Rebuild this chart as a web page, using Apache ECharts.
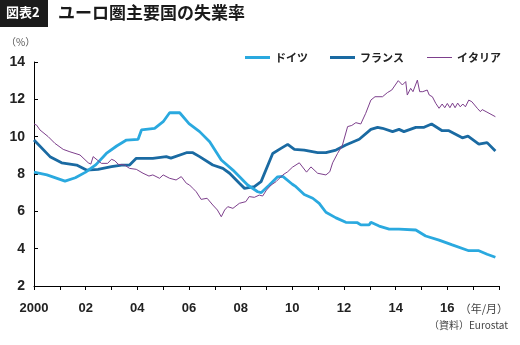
<!DOCTYPE html>
<html>
<head>
<meta charset="utf-8">
<script src="https://cdn.jsdelivr.net/npm/echarts@6/dist/echarts.min.js"></script>
<style>
html,body{margin:0;padding:0;background:#fff;}
#chart{width:520px;height:345px;}
</style>
</head>
<body>
<div id="chart"></div>
<script>
// ---- data (decimal year, unemployment rate %) ----
const seriesNames = ['ドイツ', 'フランス', 'イタリア'];
const germany = [
  [2000.0, 8.1], [2000.5, 7.95], [2001.2, 7.62], [2001.6, 7.8], [2002.0, 8.1], [2002.4, 8.5],
  [2002.8, 9.1], [2003.2, 9.5], [2003.58, 9.82], [2004.03, 9.86], [2004.16, 10.36], [2004.67, 10.45],
  [2005.0, 10.8], [2005.25, 11.28], [2005.64, 11.28], [2006.0, 10.7], [2006.41, 10.27], [2006.8, 9.73],
  [2007.25, 8.75], [2007.7, 8.21], [2008.27, 7.41], [2008.66, 7.05], [2008.79, 7.0], [2009.11, 7.41],
  [2009.43, 7.85], [2009.63, 7.87], [2010.0, 7.45], [2010.14, 7.32], [2010.46, 6.9], [2010.79, 6.7],
  [2011.04, 6.43], [2011.3, 5.95], [2011.69, 5.65], [2012.07, 5.41], [2012.52, 5.39], [2012.65, 5.27],
  [2012.97, 5.27], [2013.04, 5.41], [2013.36, 5.21], [2013.75, 5.05], [2014.13, 5.05], [2014.78, 5.0],
  [2015.16, 4.68], [2015.68, 4.46], [2016.19, 4.2], [2016.83, 3.89], [2017.22, 3.89], [2017.54, 3.7],
  [2017.86, 3.54]
];
const france = [
  [2000.0, 9.82], [2000.62, 8.93], [2001.07, 8.6], [2001.65, 8.48], [2002.03, 8.21], [2002.48, 8.25],
  [2003.0, 8.39], [2003.39, 8.48], [2003.7, 8.48], [2003.96, 8.84], [2004.6, 8.84], [2005.12, 8.93],
  [2005.3, 8.85], [2005.9, 9.14], [2006.15, 9.14], [2006.41, 8.93], [2006.92, 8.48], [2007.31, 8.3],
  [2007.57, 8.04], [2007.95, 7.5], [2008.15, 7.23], [2008.53, 7.32], [2008.79, 7.59], [2009.24, 9.1],
  [2009.56, 9.37], [2009.82, 9.59], [2010.08, 9.32], [2010.46, 9.28], [2010.98, 9.14], [2011.3, 9.14],
  [2011.69, 9.28], [2012.07, 9.55], [2012.59, 9.86], [2013.04, 10.39], [2013.3, 10.5], [2013.49, 10.45],
  [2013.88, 10.27], [2014.13, 10.39], [2014.32, 10.27], [2014.78, 10.5], [2015.1, 10.5], [2015.39, 10.68],
  [2015.8, 10.32], [2016.06, 10.32], [2016.58, 9.94], [2016.8, 10.03], [2017.22, 9.6], [2017.54, 9.68],
  [2017.86, 9.23]
];
const italy = [
  [2000.0, 10.68], [2000.1, 10.62], [2000.23, 10.36], [2000.55, 10.0], [2000.81, 9.64], [2001.13, 9.32],
  [2001.39, 9.19], [2001.78, 9.02], [2002.1, 8.6], [2002.2, 8.53], [2002.29, 8.93], [2002.45, 8.75],
  [2002.61, 8.57], [2002.85, 8.57], [2003.0, 8.79], [2003.13, 8.71], [2003.26, 8.52], [2003.51, 8.48],
  [2003.7, 8.3], [2003.96, 8.25], [2004.22, 8.04], [2004.45, 7.89], [2004.6, 7.95], [2004.86, 7.77],
  [2005.0, 7.95], [2005.25, 7.77], [2005.5, 7.68], [2005.7, 7.86], [2005.9, 7.5], [2006.02, 7.41],
  [2006.15, 7.23], [2006.28, 7.05], [2006.47, 6.64], [2006.7, 6.7], [2006.92, 6.34], [2007.1, 6.07],
  [2007.25, 5.71], [2007.38, 6.07], [2007.5, 6.25], [2007.7, 6.16], [2007.95, 6.43], [2008.2, 6.52],
  [2008.33, 6.79], [2008.53, 6.75], [2008.72, 6.87], [2008.85, 6.82], [2009.0, 7.14], [2009.18, 7.41],
  [2009.37, 7.59], [2009.63, 7.95], [2009.82, 8.12], [2010.0, 8.36], [2010.27, 8.6], [2010.55, 8.1],
  [2010.72, 8.38], [2010.98, 8.04], [2011.3, 7.95], [2011.45, 8.12], [2011.56, 8.6], [2011.75, 9.1],
  [2011.94, 9.55], [2012.14, 10.54], [2012.3, 10.6], [2012.46, 10.75], [2012.65, 10.68], [2012.84, 11.25],
  [2013.04, 11.96], [2013.2, 12.14], [2013.49, 12.14], [2013.68, 12.36], [2013.85, 12.5], [2014.1, 13.0],
  [2014.26, 12.77], [2014.39, 12.95], [2014.45, 12.23], [2014.58, 12.59], [2014.67, 12.41], [2014.84, 13.03],
  [2014.93, 12.41], [2015.05, 12.41], [2015.22, 12.5], [2015.3, 12.23], [2015.42, 12.14], [2015.55, 11.79],
  [2015.68, 11.52], [2015.8, 11.75], [2015.9, 11.55], [2016.0, 11.78], [2016.1, 11.55], [2016.2, 11.8],
  [2016.3, 11.55], [2016.4, 11.8], [2016.5, 11.6], [2016.6, 11.75], [2016.7, 11.6], [2016.83, 11.96],
  [2016.95, 11.87], [2017.16, 11.52], [2017.28, 11.34], [2017.35, 11.45], [2017.5, 11.34], [2017.86, 11.07]
];
const xTickLabels = {2000:'2000', 2002:'02', 2004:'04', 2006:'06', 2008:'08', 2010:'10', 2012:'12', 2014:'14', 2016:'16'};
const yTicks = [2, 4, 6, 8, 10, 12, 14];

const colors = ['#2aa9df', '#1a6aa2', '#7d3f8c'];
const jp = '"Noto Sans CJK JP", sans-serif';
const num = '"Liberation Sans", Arial, sans-serif';
const legendText = {fontFamily: jp, fontSize: 11, fontWeight: 'bold', color: '#222'};

const chart = echarts.init(document.getElementById('chart'), null, {renderer: 'canvas'});
chart.setOption({
  animation: false,
  backgroundColor: '#fff',
  grid: {left: 34, right: 21, top: 62, bottom: 59, containLabel: false},
  legend: [
    {
      left: 240, top: 47, icon: 'rect', itemWidth: 25, itemHeight: 3, itemGap: 22,
      textStyle: legendText, data: [seriesNames[0], seriesNames[1]]
    },
    {
      left: 422, top: 47, icon: 'rect', itemWidth: 25, itemHeight: 1,
      textStyle: legendText, data: [seriesNames[2]]
    }
  ],
  xAxis: {
    type: 'value', min: 2000, max: 2018, interval: 1,
    axisLine: {lineStyle: {color: '#000', width: 1}},
    axisTick: {show: true, inside: false, length: 4, lineStyle: {color: '#000'}},
    splitLine: {show: false},
    axisLabel: {
      margin: 16, fontFamily: num, fontSize: 13, fontWeight: 'bold', color: '#222',
      formatter: v => xTickLabels[Math.round(v)] || ''
    }
  },
  yAxis: {
    type: 'value', min: yTicks[0], max: yTicks[yTicks.length - 1], interval: 2,
    axisLine: {show: true, lineStyle: {color: '#000', width: 1}},
    axisTick: {show: true, inside: true, length: 4, lineStyle: {color: '#000'}},
    splitLine: {show: false},
    axisLabel: {margin: 9, fontFamily: num, fontSize: 14, fontWeight: 'bold', color: '#222'}
  },
  series: [
    {name: seriesNames[0], type: 'line', data: germany, symbol: 'none', color: colors[0], lineStyle: {width: 2.8, color: colors[0]}, z: 3},
    {name: seriesNames[1], type: 'line', data: france, symbol: 'none', color: colors[1], lineStyle: {width: 2.8, color: colors[1]}, z: 2},
    {name: seriesNames[2], type: 'line', data: italy, symbol: 'none', color: colors[2], lineStyle: {width: 1, color: colors[2]}, z: 4}
  ],
  graphic: [
    {type: 'rect', left: 0, top: 0, shape: {width: 48, height: 27}, style: {fill: '#1b1b1b'}},
    {type: 'text', left: 6, top: 6, style: {text: '図表2', fill: '#fff', font: 'bold 13px ' + jp}},
    {type: 'text', left: 58, top: 4, style: {text: 'ユーロ圏主要国の失業率', fill: '#1a1a1a', font: 'bold 17px ' + jp}},
    {type: 'text', left: 6, top: 37, style: {text: '（%）', fill: '#555', font: '10px ' + jp}},
    {type: 'text', right: 12, top: 303, style: {text: '（年/月）', fill: '#444', font: '11px ' + jp}},
    {type: 'text', right: 12, top: 320, style: {text: '（資料）Eurostat', fill: '#444', font: '10px ' + jp}}
  ]
});
</script>
</body>
</html>
